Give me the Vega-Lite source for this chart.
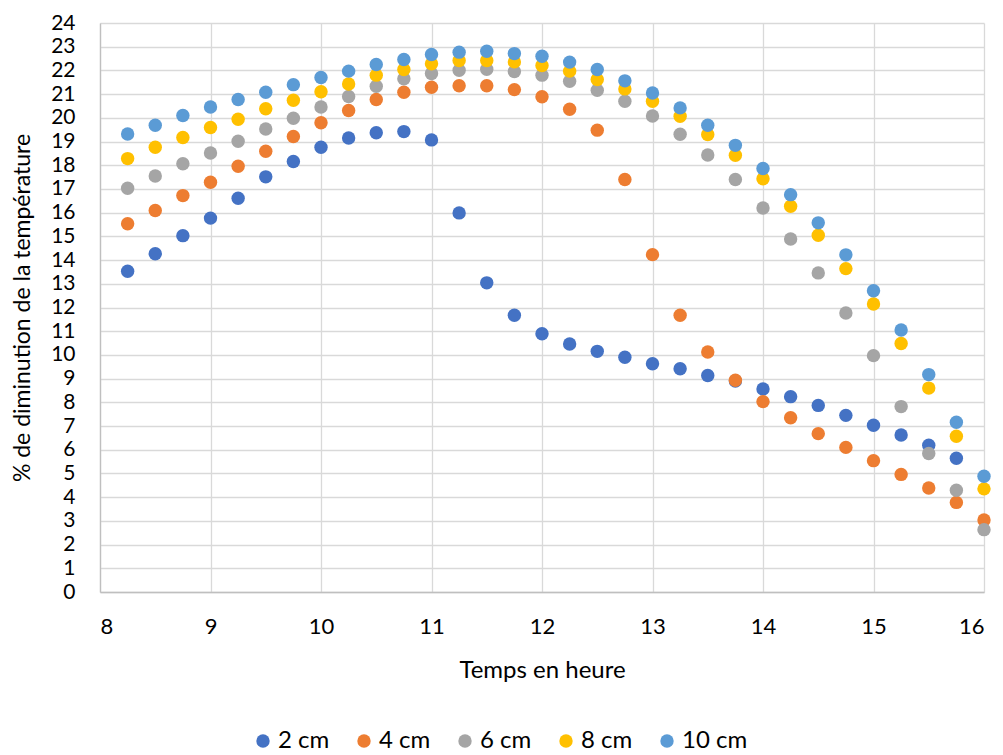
{
  "$schema": "https://vega.github.io/schema/vega-lite/v6.json",
  "width": 884,
  "height": 569,
  "autosize": {"type": "none"},
  "padding": {"left": 100, "top": 23, "right": 19, "bottom": 163},
  "background": "white",
  "config": {
    "font": "Lato",
    "view": {"stroke": null}
  },
  "data": {
    "values": [
      {"t": 8.25, "v": 13.53, "s": "2 cm"}, {"t": 8.5, "v": 14.27, "s": "2 cm"}, {"t": 8.75, "v": 15.03, "s": "2 cm"}, {"t": 9, "v": 15.77, "s": "2 cm"},
      {"t": 9.25, "v": 16.61, "s": "2 cm"}, {"t": 9.5, "v": 17.51, "s": "2 cm"}, {"t": 9.75, "v": 18.16, "s": "2 cm"}, {"t": 10, "v": 18.76, "s": "2 cm"},
      {"t": 10.25, "v": 19.15, "s": "2 cm"}, {"t": 10.5, "v": 19.37, "s": "2 cm"}, {"t": 10.75, "v": 19.42, "s": "2 cm"}, {"t": 11, "v": 19.07, "s": "2 cm"},
      {"t": 11.25, "v": 15.99, "s": "2 cm"}, {"t": 11.5, "v": 13.04, "s": "2 cm"}, {"t": 11.75, "v": 11.67, "s": "2 cm"}, {"t": 12, "v": 10.89, "s": "2 cm"},
      {"t": 12.25, "v": 10.46, "s": "2 cm"}, {"t": 12.5, "v": 10.15, "s": "2 cm"}, {"t": 12.75, "v": 9.9, "s": "2 cm"}, {"t": 13, "v": 9.63, "s": "2 cm"},
      {"t": 13.25, "v": 9.42, "s": "2 cm"}, {"t": 13.5, "v": 9.13, "s": "2 cm"}, {"t": 13.75, "v": 8.9, "s": "2 cm"}, {"t": 14, "v": 8.56, "s": "2 cm"},
      {"t": 14.25, "v": 8.24, "s": "2 cm"}, {"t": 14.5, "v": 7.87, "s": "2 cm"}, {"t": 14.75, "v": 7.45, "s": "2 cm"}, {"t": 15, "v": 7.03, "s": "2 cm"},
      {"t": 15.25, "v": 6.62, "s": "2 cm"}, {"t": 15.5, "v": 6.19, "s": "2 cm"}, {"t": 15.75, "v": 5.64, "s": "2 cm"},

      {"t": 8.25, "v": 15.53, "s": "4 cm"}, {"t": 8.5, "v": 16.09, "s": "4 cm"}, {"t": 8.75, "v": 16.72, "s": "4 cm"}, {"t": 9, "v": 17.28, "s": "4 cm"},
      {"t": 9.25, "v": 17.96, "s": "4 cm"}, {"t": 9.5, "v": 18.59, "s": "4 cm"}, {"t": 9.75, "v": 19.21, "s": "4 cm"}, {"t": 10, "v": 19.79, "s": "4 cm"},
      {"t": 10.25, "v": 20.31, "s": "4 cm"}, {"t": 10.5, "v": 20.77, "s": "4 cm"}, {"t": 10.75, "v": 21.08, "s": "4 cm"}, {"t": 11, "v": 21.29, "s": "4 cm"},
      {"t": 11.25, "v": 21.35, "s": "4 cm"}, {"t": 11.5, "v": 21.35, "s": "4 cm"}, {"t": 11.75, "v": 21.19, "s": "4 cm"}, {"t": 12, "v": 20.89, "s": "4 cm"},
      {"t": 12.25, "v": 20.36, "s": "4 cm"}, {"t": 12.5, "v": 19.48, "s": "4 cm"}, {"t": 12.75, "v": 17.4, "s": "4 cm"}, {"t": 13, "v": 14.23, "s": "4 cm"},
      {"t": 13.25, "v": 11.67, "s": "4 cm"}, {"t": 13.5, "v": 10.12, "s": "4 cm"}, {"t": 13.75, "v": 8.93, "s": "4 cm"}, {"t": 14, "v": 8.03, "s": "4 cm"},
      {"t": 14.25, "v": 7.35, "s": "4 cm"}, {"t": 14.5, "v": 6.68, "s": "4 cm"}, {"t": 14.75, "v": 6.1, "s": "4 cm"}, {"t": 15, "v": 5.54, "s": "4 cm"},
      {"t": 15.25, "v": 4.96, "s": "4 cm"}, {"t": 15.5, "v": 4.39, "s": "4 cm"}, {"t": 15.75, "v": 3.78, "s": "4 cm"}, {"t": 16, "v": 3.04, "s": "4 cm"},

      {"t": 8.25, "v": 17.03, "s": "6 cm"}, {"t": 8.5, "v": 17.55, "s": "6 cm"}, {"t": 8.75, "v": 18.06, "s": "6 cm"}, {"t": 9, "v": 18.52, "s": "6 cm"},
      {"t": 9.25, "v": 19.01, "s": "6 cm"}, {"t": 9.5, "v": 19.53, "s": "6 cm"}, {"t": 9.75, "v": 19.98, "s": "6 cm"}, {"t": 10, "v": 20.46, "s": "6 cm"},
      {"t": 10.25, "v": 20.9, "s": "6 cm"}, {"t": 10.5, "v": 21.33, "s": "6 cm"}, {"t": 10.75, "v": 21.65, "s": "6 cm"}, {"t": 11, "v": 21.87, "s": "6 cm"},
      {"t": 11.25, "v": 22.01, "s": "6 cm"}, {"t": 11.5, "v": 22.05, "s": "6 cm"}, {"t": 11.75, "v": 21.95, "s": "6 cm"}, {"t": 12, "v": 21.8, "s": "6 cm"},
      {"t": 12.25, "v": 21.54, "s": "6 cm"}, {"t": 12.5, "v": 21.16, "s": "6 cm"}, {"t": 12.75, "v": 20.7, "s": "6 cm"}, {"t": 13, "v": 20.08, "s": "6 cm"},
      {"t": 13.25, "v": 19.31, "s": "6 cm"}, {"t": 13.5, "v": 18.43, "s": "6 cm"}, {"t": 13.75, "v": 17.4, "s": "6 cm"}, {"t": 14, "v": 16.2, "s": "6 cm"},
      {"t": 14.25, "v": 14.89, "s": "6 cm"}, {"t": 14.5, "v": 13.46, "s": "6 cm"}, {"t": 14.75, "v": 11.77, "s": "6 cm"}, {"t": 15, "v": 9.97, "s": "6 cm"},
      {"t": 15.25, "v": 7.82, "s": "6 cm"}, {"t": 15.5, "v": 5.84, "s": "6 cm"}, {"t": 15.75, "v": 4.29, "s": "6 cm"}, {"t": 16, "v": 2.63, "s": "6 cm"},

      {"t": 8.25, "v": 18.28, "s": "8 cm"}, {"t": 8.5, "v": 18.76, "s": "8 cm"}, {"t": 8.75, "v": 19.17, "s": "8 cm"}, {"t": 9, "v": 19.59, "s": "8 cm"},
      {"t": 9.25, "v": 19.94, "s": "8 cm"}, {"t": 9.5, "v": 20.38, "s": "8 cm"}, {"t": 9.75, "v": 20.74, "s": "8 cm"}, {"t": 10, "v": 21.1, "s": "8 cm"},
      {"t": 10.25, "v": 21.43, "s": "8 cm"}, {"t": 10.5, "v": 21.8, "s": "8 cm"}, {"t": 10.75, "v": 22.04, "s": "8 cm"}, {"t": 11, "v": 22.28, "s": "8 cm"},
      {"t": 11.25, "v": 22.42, "s": "8 cm"}, {"t": 11.5, "v": 22.42, "s": "8 cm"}, {"t": 11.75, "v": 22.36, "s": "8 cm"}, {"t": 12, "v": 22.21, "s": "8 cm"},
      {"t": 12.25, "v": 21.97, "s": "8 cm"}, {"t": 12.5, "v": 21.62, "s": "8 cm"}, {"t": 12.75, "v": 21.22, "s": "8 cm"}, {"t": 13, "v": 20.7, "s": "8 cm"},
      {"t": 13.25, "v": 20.07, "s": "8 cm"}, {"t": 13.5, "v": 19.3, "s": "8 cm"}, {"t": 13.75, "v": 18.42, "s": "8 cm"}, {"t": 14, "v": 17.43, "s": "8 cm"},
      {"t": 14.25, "v": 16.27, "s": "8 cm"}, {"t": 14.5, "v": 15.05, "s": "8 cm"}, {"t": 14.75, "v": 13.64, "s": "8 cm"}, {"t": 15, "v": 12.15, "s": "8 cm"},
      {"t": 15.25, "v": 10.48, "s": "8 cm"}, {"t": 15.5, "v": 8.6, "s": "8 cm"}, {"t": 15.75, "v": 6.57, "s": "8 cm"}, {"t": 16, "v": 4.35, "s": "8 cm"},

      {"t": 8.25, "v": 19.32, "s": "10 cm"}, {"t": 8.5, "v": 19.69, "s": "10 cm"}, {"t": 8.75, "v": 20.1, "s": "10 cm"}, {"t": 9, "v": 20.46, "s": "10 cm"},
      {"t": 9.25, "v": 20.77, "s": "10 cm"}, {"t": 9.5, "v": 21.08, "s": "10 cm"}, {"t": 9.75, "v": 21.4, "s": "10 cm"}, {"t": 10, "v": 21.7, "s": "10 cm"},
      {"t": 10.25, "v": 21.97, "s": "10 cm"}, {"t": 10.5, "v": 22.25, "s": "10 cm"}, {"t": 10.75, "v": 22.46, "s": "10 cm"}, {"t": 11, "v": 22.67, "s": "10 cm"},
      {"t": 11.25, "v": 22.77, "s": "10 cm"}, {"t": 11.5, "v": 22.81, "s": "10 cm"}, {"t": 11.75, "v": 22.71, "s": "10 cm"}, {"t": 12, "v": 22.6, "s": "10 cm"},
      {"t": 12.25, "v": 22.35, "s": "10 cm"}, {"t": 12.5, "v": 22.04, "s": "10 cm"}, {"t": 12.75, "v": 21.56, "s": "10 cm"}, {"t": 13, "v": 21.05, "s": "10 cm"},
      {"t": 13.25, "v": 20.42, "s": "10 cm"}, {"t": 13.5, "v": 19.69, "s": "10 cm"}, {"t": 13.75, "v": 18.84, "s": "10 cm"}, {"t": 14, "v": 17.86, "s": "10 cm"},
      {"t": 14.25, "v": 16.76, "s": "10 cm"}, {"t": 14.5, "v": 15.57, "s": "10 cm"}, {"t": 14.75, "v": 14.22, "s": "10 cm"}, {"t": 15, "v": 12.71, "s": "10 cm"},
      {"t": 15.25, "v": 11.05, "s": "10 cm"}, {"t": 15.5, "v": 9.17, "s": "10 cm"}, {"t": 15.75, "v": 7.16, "s": "10 cm"}, {"t": 16, "v": 4.88, "s": "10 cm"}
    ]
  },
  "mark": {"type": "point", "filled": true, "opacity": 1, "size": 180, "strokeWidth": 0},
  "encoding": {
    "x": {
      "field": "t", "type": "quantitative",
      "scale": {"domain": [8, 16], "nice": false, "zero": false},
      "axis": {
        "title": "Temps en heure",
        "values": [8, 9, 10, 11, 12, 13, 14, 15, 16],
        "grid": true, "gridColor": "#D9D9D9", "gridWidth": 1.3,
        "domain": true, "domainColor": "#BFBFBF", "domainWidth": 1.3,
        "ticks": false,
        "labelFontSize": 22, "labelColor": "#000000", "labelPadding": 24,
        "titleFontSize": 24, "titleFontWeight": "normal", "titleColor": "#000000", "titlePadding": 21
      }
    },
    "y": {
      "field": "v", "type": "quantitative",
      "scale": {"domain": [0, 24], "nice": false},
      "axis": {
        "title": "% de diminution de la température",
        "values": [0, 1, 2, 3, 4, 5, 6, 7, 8, 9, 10, 11, 12, 13, 14, 15, 16, 17, 18, 19, 20, 21, 22, 23, 24],
        "grid": true, "gridColor": "#D9D9D9", "gridWidth": 1.3,
        "domain": true, "domainColor": "#BFBFBF", "domainWidth": 1.3,
        "ticks": false,
        "labelFontSize": 21, "labelColor": "#000000", "labelPadding": 25,
        "titleFontSize": 23, "titleFontWeight": "normal", "titleColor": "#000000", "titlePadding": 16
      }
    },
    "color": {
      "field": "s", "type": "nominal",
      "scale": {
        "domain": ["2 cm", "4 cm", "6 cm", "8 cm", "10 cm"],
        "range": ["#4472C4", "#ED7D31", "#A5A5A5", "#FFC000", "#5B9BD5"]
      },
      "legend": {
        "title": null,
        "orient": "none",
        "direction": "horizontal",
        "legendX": 151,
        "legendY": 706,
        "symbolType": "circle",
        "symbolSize": 180,
        "symbolStrokeWidth": 0,
        "labelFontSize": 24,
        "labelColor": "#000000",
        "labelOffset": 3,
        "columnPadding": 22
      }
    }
  }
}
